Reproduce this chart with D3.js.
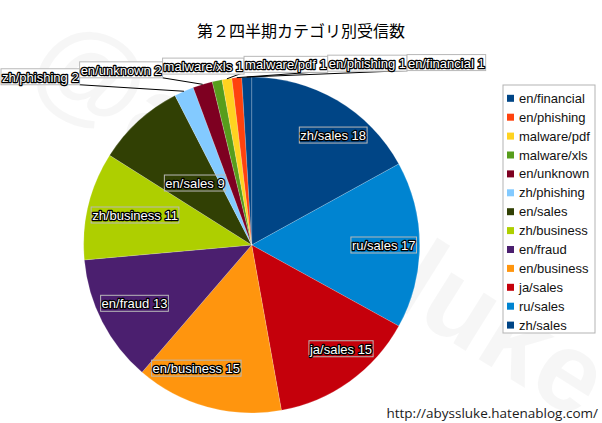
<!DOCTYPE html>
<html>
<head>
<meta charset="utf-8">
<script src="https://cdn.jsdelivr.net/npm/d3@7"></script>
<style>
  html, body { margin: 0; padding: 0; background: #fff; }
  svg { display: block; }
</style>
</head>
<body>
<svg id="chart" width="602" height="423"></svg>
<script>
// ---- data ----
const title = "第２四半期カテゴリ別受信数";
const categories = ["zh/sales","ru/sales","ja/sales","en/business","en/fraud","zh/business","en/sales","zh/phishing","en/unknown","malware/xls","malware/pdf","en/phishing","en/financial"];
const values = [18,17,15,15,13,11,9,2,2,1,1,1,1];
const colors = ["#004586","#0084d1","#c5000b","#ff950e","#4b1f6f","#aecf00","#314004","#83caff","#7e0021","#579d1c","#ffd320","#ff420e","#004586"];
const footer = "http://abyssluke.hatenablog.com/";
const watermark = "@abyssluke";

// ---- layout ----
const W = 602, H = 423;
const cx = 251.7, cy = 245, R = 168;
const svg = d3.select("#chart");
const labelFont = "'Liberation Sans', Arial, sans-serif";

const data = categories.map((c, i) => ({cat: c, v: values[i], color: colors[i]}));

// watermark (behind)
svg.append("text")
  .attr("transform", `translate(322,216) rotate(32)`)
  .attr("text-anchor", "middle")
  .attr("dominant-baseline", "central")
  .attr("font-family", labelFont)
  .attr("font-weight", "bold")
  .attr("font-size", 112)
  .attr("fill", "#000")
  .attr("fill-opacity", 0.035)
  .text(watermark);

// title
svg.append("text")
  .attr("x", 301).attr("y", 37)
  .attr("text-anchor", "middle")
  .attr("font-family", "'Noto Sans CJK JP', sans-serif")
  .attr("font-size", 16)
  .attr("fill", "#000")
  .text(title);

// pie
const pie = d3.pie().sort(null).value(d => d.v).startAngle(0).endAngle(2 * Math.PI);
const arcs = pie(data);
const arc = d3.arc().innerRadius(0).outerRadius(R);
const g = svg.append("g").attr("transform", `translate(${cx},${cy})`);
g.selectAll("path.slice").data(arcs).join("path")
  .attr("class", "slice")
  .attr("d", arc)
  .attr("fill", d => d.data.color)
  .attr("stroke", "rgba(255,255,255,0.25)")
  .attr("stroke-width", 0.7);

// labels
const lineLayer = svg.append("g");
const labelLayer = svg.append("g");
function makeLabel(text, outer) {
  const grp = labelLayer.append("g");
  const rect = grp.append("rect")
    .attr("fill", outer ? "#fff" : "none")
    .attr("stroke", "#b8b8b8")
    .attr("stroke-width", 1);
  const t = grp.append("text")
    .attr("font-family", labelFont)
    .attr("font-size", 13)
    .attr("fill", "#fff")
    .attr("stroke", "#000")
    .attr("stroke-width", 2.5)
    .attr("stroke-linejoin", "round")
    .attr("paint-order", "stroke")
    .attr("text-anchor", "middle")
    .attr("dominant-baseline", "central")
    .text(text);
  const w = t.node().getComputedTextLength() + 2;
  const h = 16;
  return {grp, rect, t, w, h};
}
function placeLabel(L, x, y) {
  L.rect.attr("x", x - L.w / 2).attr("y", y - L.h / 2).attr("width", L.w).attr("height", L.h);
  L.t.attr("x", x).attr("y", y + 0.5);
}

const outerList = [];
arcs.forEach(a => {
  const span = (a.endAngle - a.startAngle) * 180 / Math.PI;
  const th = (a.startAngle + a.endAngle) / 2;
  const sx = Math.sin(th), sy = -Math.cos(th);
  const text = `${a.data.cat} ${a.data.v}`;
  if (span < 10) {
    outerList.push({a, th, sx, sy, text});
    return;
  }
  const L = makeLabel(text, false);
  if (span >= 35) {
    // best fit: pushed horizontally to the rim
    const yc = cy + 0.76 * R * sy;
    const dy = yc - cy;
    const yFar = Math.abs(dy) + L.h / 2;
    const s = sx >= 0 ? 1 : -1;
    const rr = R - 3;
    const xEdge = cx + s * Math.sqrt(Math.max(0, rr * rr - yFar * yFar));
    placeLabel(L, xEdge - s * L.w / 2, yc);
  } else {
    placeLabel(L, cx + 0.5 * R * sx, cy + 0.5 * R * sy);
  }
});

// outer labels: packed in a row above the pie
const outers = outerList.map(o => Object.assign(o, {L: makeLabel(o.text, true)}));
const total = d3.sum(outers, o => o.L.w);
let xCur = Math.max(1, cx - 10 - total / 2);
outers.forEach(o => {
  const ax = cx + R * o.sx, ay = cy + R * o.sy;
  const bx = xCur + o.L.w / 2;
  const by = ay - 14.5;
  placeLabel(o.L, bx, by);
  const left = xCur, right = xCur + o.L.w, bottom = by + o.L.h / 2;
  let px = null;
  if (ax > right) px = right; else if (ax < left) px = left;
  if (px !== null) {
    lineLayer.append("line")
      .attr("x1", px).attr("y1", bottom)
      .attr("x2", ax).attr("y2", ay)
      .attr("stroke", "#000").attr("stroke-width", 1);
  }
  xCur += o.L.w;
});

// legend
const legendItems = data.slice().reverse();
const lg = svg.append("g");
const lx = 503, ly = 85, lw = 92, step = 18.9;
lg.append("rect")
  .attr("x", lx).attr("y", ly).attr("width", lw).attr("height", 248)
  .attr("fill", "#fff").attr("stroke", "#b3b3b3").attr("stroke-width", 1);
const li = lg.selectAll("g.item").data(legendItems).join("g")
  .attr("class", "item")
  .attr("transform", (d, i) => `translate(${lx}, ${ly + 13.3 + i * step})`);
li.append("rect")
  .attr("x", 4).attr("y", -3.5).attr("width", 7).attr("height", 7)
  .attr("fill", d => d.color);
li.append("text")
  .attr("x", 16).attr("y", 0)
  .attr("dominant-baseline", "central")
  .attr("font-family", labelFont)
  .attr("font-size", 13)
  .attr("fill", "#111")
  .text(d => d.cat);

// footer
svg.append("text")
  .attr("x", 598).attr("y", 418)
  .attr("text-anchor", "end")
  .attr("font-family", "'Open Sans', sans-serif")
  .attr("font-size", 13.5)
  .attr("fill", "#1a1a1a")
  .text(footer);
</script>
</body>
</html>
